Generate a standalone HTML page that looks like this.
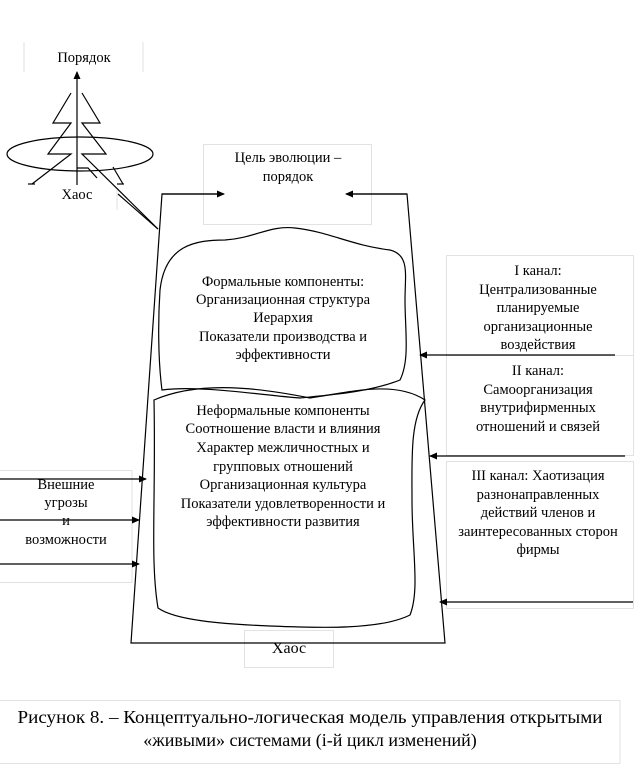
<!DOCTYPE html>
<html><head><meta charset="utf-8"><style>
html,body{margin:0;padding:0;background:#fff;}
svg{display:block;}
text{font-family:"Liberation Serif",serif;fill:#000;}
</style></head><body>
<svg width="643" height="764" viewBox="0 0 643 764" xmlns="http://www.w3.org/2000/svg">
<defs>
<marker id="a" markerWidth="8" markerHeight="8" refX="7" refY="4" orient="auto" markerUnits="userSpaceOnUse"><path d="M0,0.5 L8,4 L0,7.5 z" fill="#000"/></marker>
</defs>
<g fill="none" stroke="#e2e2e2" stroke-width="1">
<line x1="24" y1="42" x2="24" y2="72"/><line x1="143" y1="42" x2="143" y2="72"/>
<line x1="117" y1="190" x2="117" y2="210"/>
<rect x="203.5" y="144.5" width="168" height="80"/>
<rect x="244.5" y="630.5" width="89" height="37"/>
<rect x="446.5" y="255.5" width="187" height="100"/>
<rect x="446.5" y="355.5" width="187" height="100"/>
<rect x="446.5" y="461.5" width="187" height="147"/>
<rect x="-1" y="470.5" width="133" height="112"/>
<rect x="-1" y="700.5" width="621" height="63"/>
</g>
<g fill="none" stroke="#000" stroke-width="1.2">
<line x1="77" y1="185" x2="77" y2="72" marker-end="url(#a)"/>
<ellipse cx="80" cy="154" rx="73" ry="17"/>
<polyline points="71,93 53,123 71,123 48,154 71,154 32,184"/>
<line x1="28" y1="184" x2="35" y2="184"/>
<polyline points="82,93 100,123 82,123 106,154 82,154 158,229"/>
<polyline points="113,167 123,184"/>
<line x1="117" y1="184" x2="124" y2="184"/>
<polyline points="118,194 158,229"/>
<polyline points="77,168 88,168 97,178"/>
<polyline points="220,194 162,194 131,643 445,643 407,194 350,194"/>
<line x1="162" y1="194" x2="224" y2="194" marker-end="url(#a)"/>
<line x1="407" y1="194" x2="346" y2="194" marker-end="url(#a)"/>
<path d="M160,290 C165,245 195,240 225,240 C255,238 270,225 295,228 C330,232 350,245 390,250 C410,255 405,275 405,300 C405,330 410,360 400,380 C370,392 330,395 300,398 C260,395 200,385 162,390 C158,360 158,320 160,290 Z"/>
<path d="M154,400 C200,380 260,388 310,398 C350,392 395,380 425,400 C410,420 412,460 412,500 C412,550 420,590 410,615 C380,630 320,628 270,626 C220,624 175,620 158,608 C150,560 156,500 154,400 Z"/>
<line x1="615" y1="355" x2="420" y2="355" marker-end="url(#a)"/>
<line x1="625" y1="456" x2="430" y2="456" marker-end="url(#a)"/>
<line x1="633" y1="602" x2="440" y2="602" marker-end="url(#a)"/>
<line x1="0" y1="479" x2="146" y2="479" marker-end="url(#a)"/>
<line x1="0" y1="520" x2="139" y2="520" marker-end="url(#a)"/>
<line x1="0" y1="564" x2="139" y2="564" marker-end="url(#a)"/>
</g>
<g font-size="14.5" text-anchor="middle">
<text x="84" y="62">Порядок</text>
<text x="77" y="199">Хаос</text>
<text x="288" y="162">Цель эволюции –</text>
<text x="288" y="181">порядок</text>
<text x="283" y="286">Формальные компоненты:</text>
<text x="283" y="304">Организационная структура</text>
<text x="283" y="322">Иерархия</text>
<text x="283" y="341">Показатели производства и</text>
<text x="283" y="359">эффективности</text>
<text x="283" y="415">Неформальные компоненты</text>
<text x="283" y="433">Соотношение власти и влияния</text>
<text x="283" y="452">Характер межличностных и</text>
<text x="283" y="471">групповых отношений</text>
<text x="283" y="489">Организационная культура</text>
<text x="283" y="508">Показатели удовлетворенности и</text>
<text x="283" y="526">эффективности развития</text>
<text x="538" y="275">I канал:</text>
<text x="538" y="294">Централизованные</text>
<text x="538" y="312">планируемые</text>
<text x="538" y="331">организационные</text>
<text x="538" y="349">воздействия</text>
<text x="538" y="375">II канал:</text>
<text x="538" y="394">Самоорганизация</text>
<text x="538" y="412">внутрифирменных</text>
<text x="538" y="431">отношений и связей</text>
<text x="538" y="480">III канал: Хаотизация</text>
<text x="538" y="499">разнонаправленных</text>
<text x="538" y="517">действий членов и</text>
<text x="538" y="536">заинтересованных сторон</text>
<text x="538" y="554">фирмы</text>
<text x="66" y="489">Внешние</text>
<text x="66" y="507">угрозы</text>
<text x="66" y="525">и</text>
<text x="66" y="544">возможности</text>
<text x="289" y="653" font-size="16">Хаос</text>
<text x="310" y="723" font-size="18" textLength="585" lengthAdjust="spacingAndGlyphs">Рисунок 8. – Концептуально-логическая модель управления открытыми</text>
<text x="310" y="746" font-size="18">«живыми» системами (i-й цикл изменений)</text>
</g>
</svg>
</body></html>
